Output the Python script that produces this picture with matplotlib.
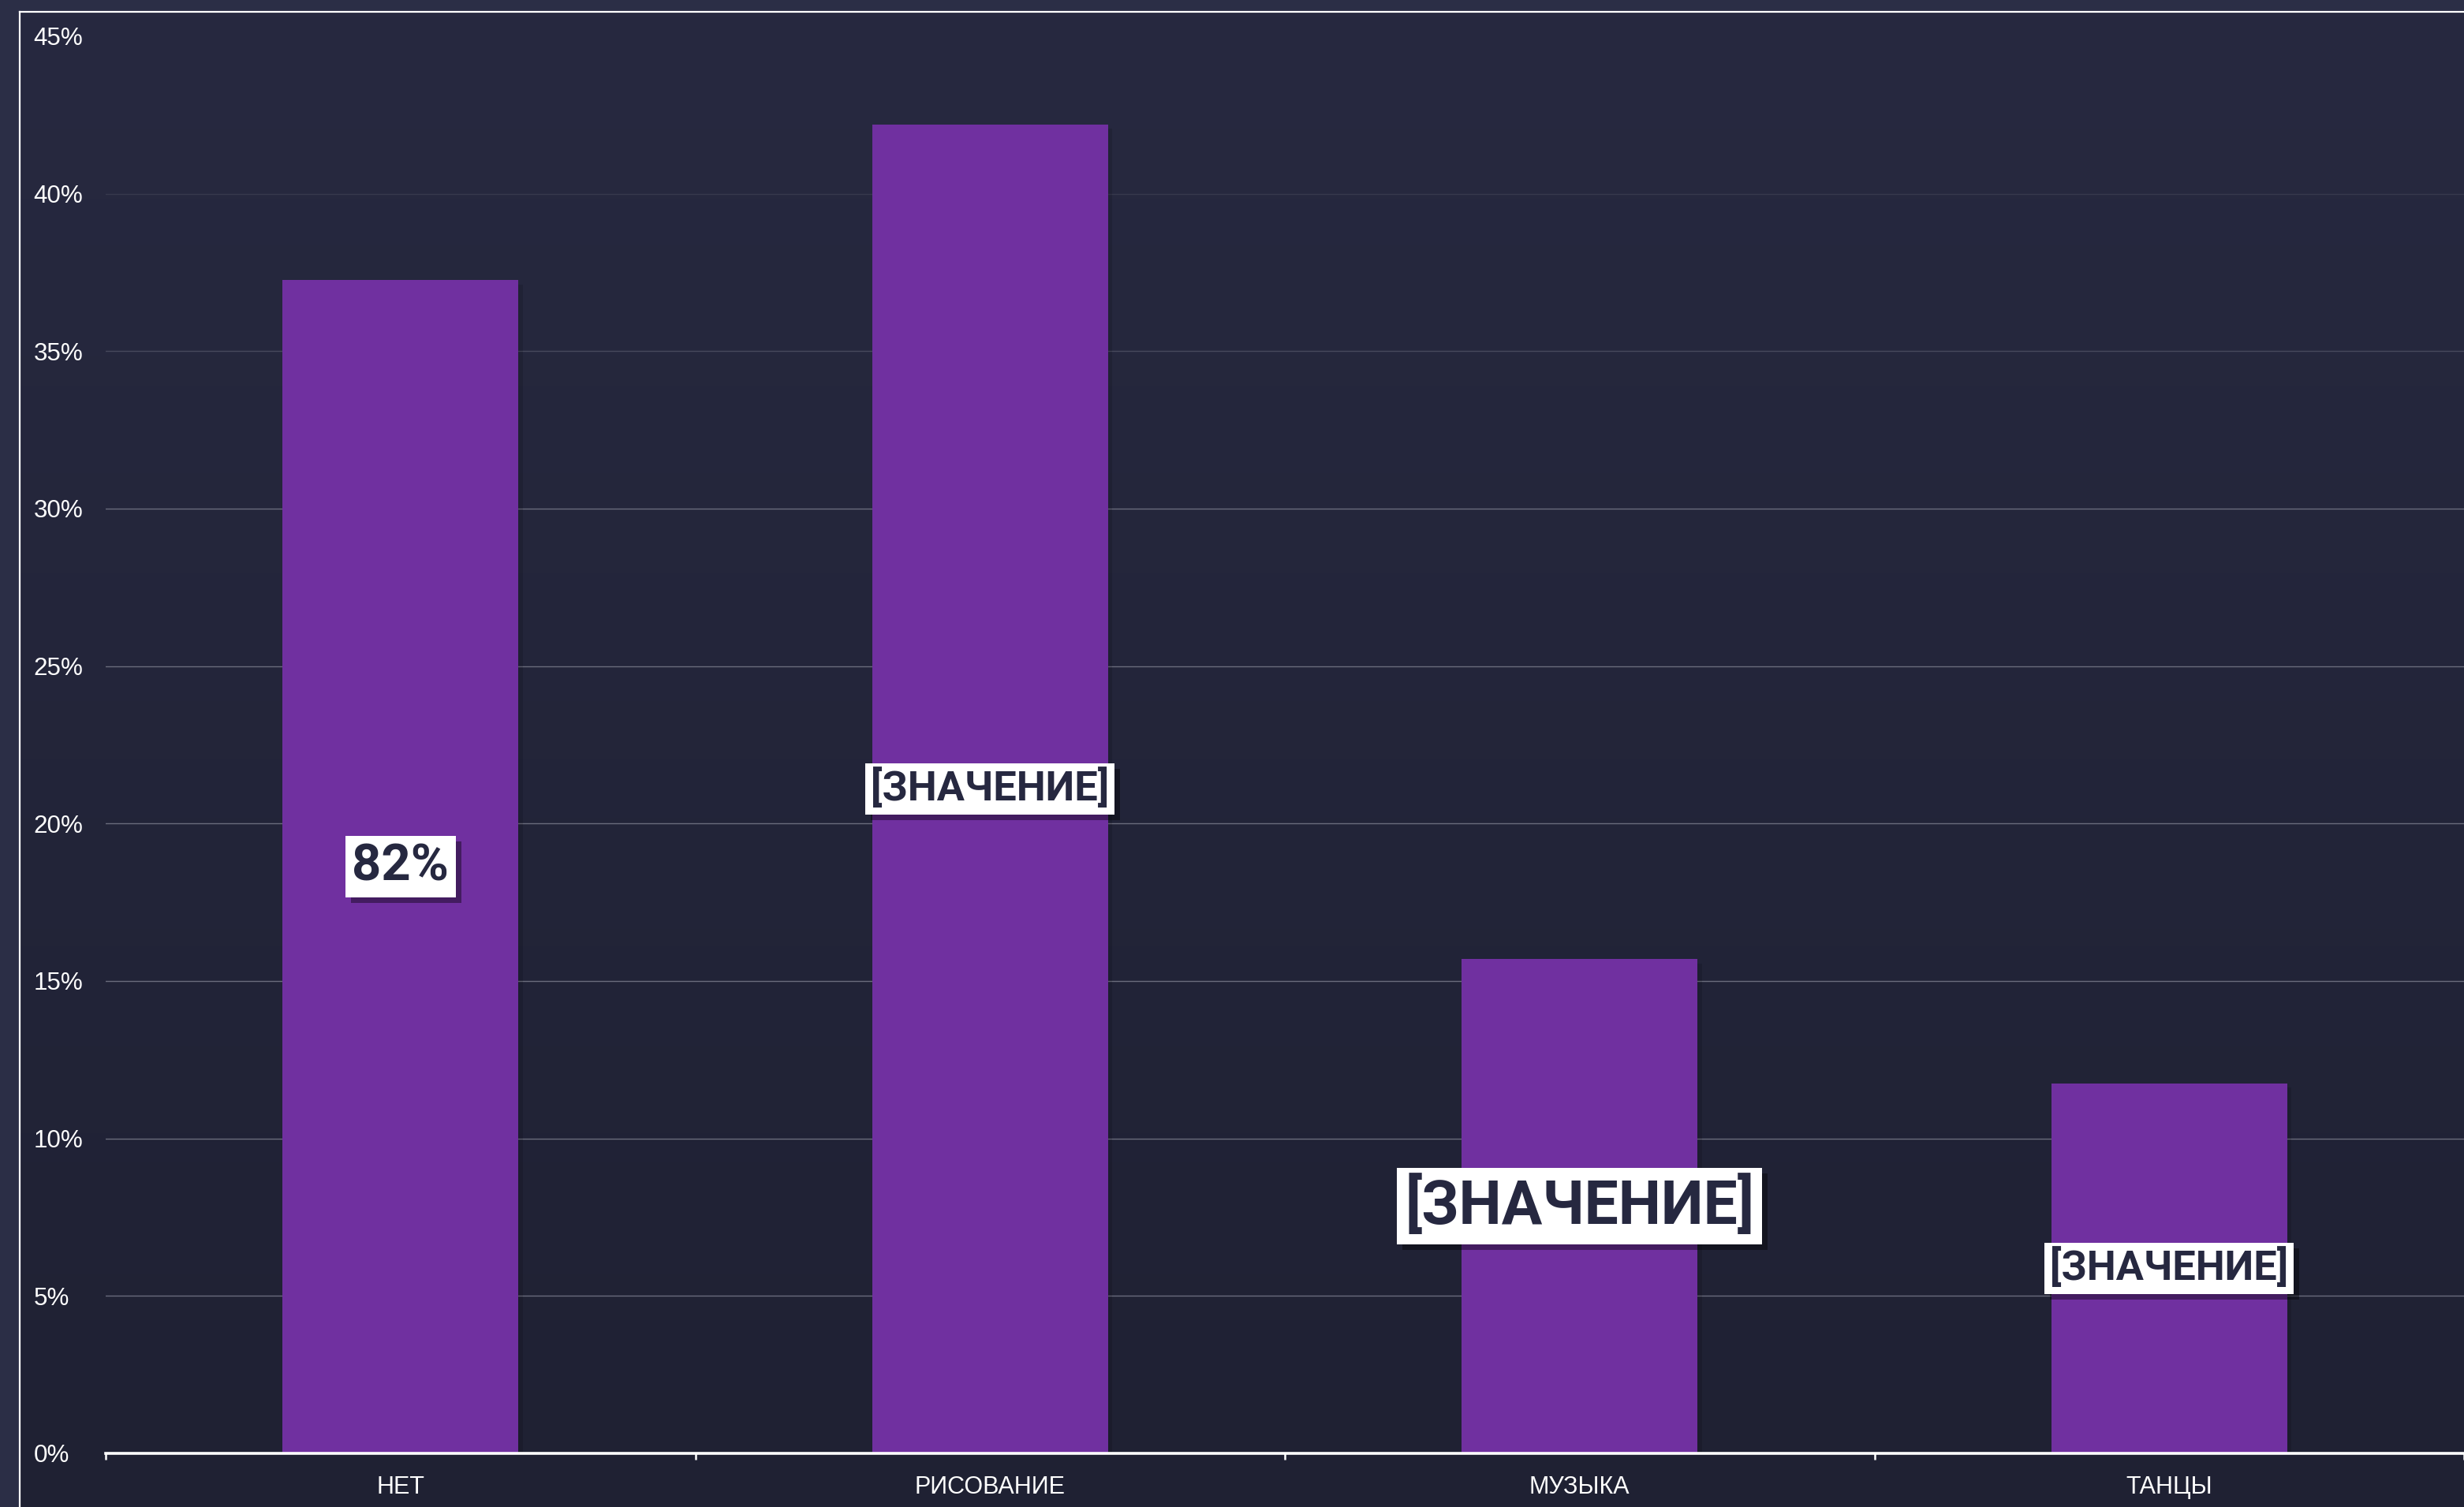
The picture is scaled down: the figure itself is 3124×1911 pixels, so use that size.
import matplotlib.pyplot as plt
import matplotlib.patheffects as pe
import numpy as np

# chart data
categories = ['НЕТ', 'РИСОВАНИЕ', 'МУЗЫКА', 'ТАНЦЫ']
values = [37.25, 42.2, 15.7, 11.75]
value_labels = ['82%', '[ЗНАЧЕНИЕ]', '[ЗНАЧЕНИЕ]', '[ЗНАЧЕНИЕ]']
label_sizes = [23.5, 18.8, 27.6, 18.8]
y_ticks = [0, 5, 10, 15, 20, 25, 30, 35, 40, 45]

bar_color = '#7030A0'
text_dark = '#262840'

fig = plt.figure(figsize=(15.62, 9.555), dpi=200)
fig.patch.set_facecolor('#2b2e46')

# background gradient inside the white frame
bg = fig.add_axes([0.008, 0.0, 0.992, 0.992], zorder=0)
grad = np.linspace(0, 1, 256).reshape(-1, 1)
top_col = np.array([0x27, 0x29, 0x40]) / 255
bot_col = np.array([0x1f, 0x21, 0x33]) / 255
img = top_col + (bot_col - top_col) * grad[:, :, None]
bg.imshow(img, aspect='auto', extent=[0, 1, 0, 1])
bg.set_axis_off()
# white frame (left + top edges)
fig.add_artist(plt.Line2D([0.008, 0.008], [0.0, 0.992], color='white', lw=0.8,
                          transform=fig.transFigure))
fig.add_artist(plt.Line2D([0.008, 1.0], [0.992, 0.992], color='white', lw=0.8,
                          transform=fig.transFigure))

ax = fig.add_axes([0.0429, 0.0356, 0.9571, 0.9404], zorder=1)
ax.patch.set_alpha(0)

x = np.arange(len(categories))
bars = ax.bar(x, values, width=0.4, color=bar_color, zorder=3)
for b in bars:
    b.set_path_effects([pe.SimplePatchShadow(offset=(2, -2), shadow_rgbFace='black', alpha=0.12),
                        pe.Normal()])

ax.set_xlim(-0.5, len(categories) - 0.5)
ax.set_ylim(0, 45)

# gridlines, fading out toward the top like the original
for yv in y_ticks[1:-1]:
    a = 1.0 if yv <= 30 else (0.5 if yv == 35 else 0.25)
    ax.axhline(yv, color='#6a6c7c', lw=0.5, alpha=a, zorder=1)

ax.set_yticks(y_ticks)
ax.set_yticklabels([f'{v}%' for v in y_ticks], ha='left', color='white',
                   fontsize=11.3, family='Liberation Sans')
ax.tick_params(axis='y', length=0, pad=33)

ax.set_xticks(x)
ax.set_xticklabels(categories, color='white', fontsize=11, family='Liberation Sans')
ax.set_xticks(np.arange(len(categories) + 1) - 0.5, minor=True)
ax.tick_params(axis='x', which='major', length=0, pad=10)
ax.tick_params(axis='x', which='minor', length=3, width=0.9, color='white', direction='out')

for s in ['left', 'right', 'top']:
    ax.spines[s].set_visible(False)
ax.spines['bottom'].set_color('white')
ax.spines['bottom'].set_linewidth(1.3)
ax.spines['bottom'].set_zorder(4)

# value labels in white boxes
for xi, v, lab, fs in zip(x, values, value_labels, label_sizes):
    t = ax.text(xi, v / 2, lab, ha='center', va='center', fontsize=fs,
                fontweight='bold', family='Roboto', color=text_dark, zorder=5,
                bbox=dict(boxstyle='square,pad=0.13', fc='white', ec='none'))
    t.get_bbox_patch().set_path_effects([
        pe.SimplePatchShadow(offset=(2.5, -2.5), shadow_rgbFace='black', alpha=0.4),
        pe.Normal()])

fig.savefig('out.png', dpi=200, facecolor=fig.get_facecolor())
